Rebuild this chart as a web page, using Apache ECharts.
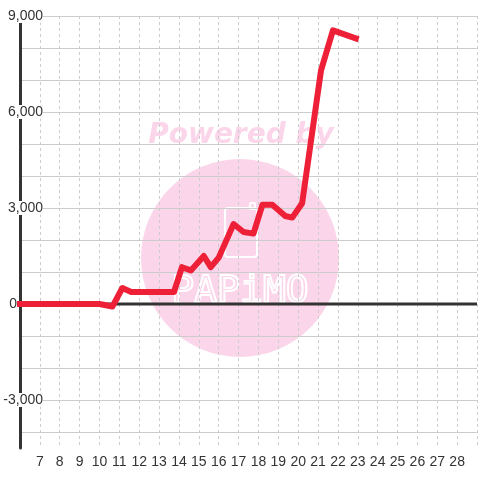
<!DOCTYPE html>
<html>
<head>
<meta charset="utf-8">
<script src="https://cdn.jsdelivr.net/npm/echarts@6/dist/echarts.min.js"></script>
<style>
html,body{margin:0;padding:0;background:#fff;}
#chart{width:480px;height:480px;}
</style>
</head>
<body>
<div id="chart"></div>
<script>
// Data
var days = [6, 7, 8, 9, 10, 10.65, 11.15, 11.6, 13.75, 14.15, 14.6, 15.25, 15.6, 16, 16.75, 17.25, 17.75, 18.2, 18.7, 19.35, 19.7, 20.2, 21.15, 21.75, 22.9];
var values = [0, 0, 0, 0, 0, -80, 500, 375, 375, 1150, 1050, 1500, 1150, 1450, 2500, 2250, 2200, 3100, 3100, 2750, 2700, 3150, 7300, 8550, 8300];
var xMin = 6, xMax = 29;
var yMin = -4500, yMax = 9000;
var yLabelStep = 3000;

var lineData = days.map(function (d, i) { return [d, values[i]]; });
var zeroData = [[xMin, 0], [xMax, 0]];

var chart = echarts.init(document.getElementById('chart'));
chart.setOption({
  animation: false,
  backgroundColor: '#ffffff',
  grid: { left: 20, right: 0, top: 16, bottom: 32, containLabel: false },
  xAxis: {
    type: 'value',
    min: xMin, max: xMax, interval: 1,
    axisLine: { show: false },
    axisTick: { show: false },
    axisLabel: {
      color: '#333', fontSize: 14, fontFamily: 'Liberation Sans, Arial, sans-serif', margin: 7,
      formatter: function (v) { return (v === xMin || v === xMax) ? '' : String(v); }
    },
    splitLine: { show: true, lineStyle: { color: '#cccccc', type: [3, 3], width: 1 } }
  },
  yAxis: {
    type: 'value',
    min: yMin, max: yMax, interval: 500,
    axisLine: { show: true, onZero: false, lineStyle: { color: '#333', width: 3 } },
    axisTick: { show: false },
    axisLabel: {
      color: '#333', fontSize: 14, fontFamily: 'Liberation Sans, Arial, sans-serif',
      margin: -23,
      formatter: function (v) {
        if (v % yLabelStep !== 0) return '';
        if (v === 0) return '{z|0}';
        return '{n|' + v.toLocaleString('en-US') + '}';
      },
      rich: {
        n: { color: '#333', fontSize: 14, fontFamily: 'Liberation Sans, Arial, sans-serif', backgroundColor: '#ffffff', lineHeight: 13 },
        z: { color: '#333', fontSize: 14, fontFamily: 'Liberation Sans, Arial, sans-serif', padding: [0, 26, 0, 0], lineHeight: 13 }
      }
    },
    splitLine: { show: true, lineStyle: { color: ['rgba(0,0,0,0)', '#cccccc'], width: 1 } }
  },
  graphic: [
    { type: 'circle', z: -10, shape: { cx: 240, cy: 258, r: 99 }, style: { fill: '#fbd6ea' }, silent: true },
    { type: 'text', z: -10, x: 241, y: 136, silent: true,
      style: { text: 'Powered by', fill: '#fbd6ea', font: 'italic bold 28px "DejaVu Sans"', align: 'center', verticalAlign: 'middle' } },
    { type: 'rect', z: -9, shape: { x: 225, y: 208, width: 32, height: 49, r: 3 }, silent: true,
      style: { fill: 'none', stroke: '#ffffff', lineWidth: 2 } },
    { type: 'rect', z: -9, shape: { x: 250, y: 203, width: 5, height: 6, r: 1 }, silent: true,
      style: { fill: 'none', stroke: '#ffffff', lineWidth: 2 } },
    { type: 'text', z: -9, x: 240, y: 292, silent: true,
      style: { text: 'PAPiMO', fill: 'rgba(0,0,0,0)', stroke: '#ffffff', lineWidth: 2, font: '38px "DejaVu Sans Mono"', align: 'center', verticalAlign: 'middle' } }
  ],
  series: [
    {
      type: 'line', z: 2, data: zeroData, showSymbol: false, silent: true,
      lineStyle: { color: '#333333', width: 3 }
    },
    {
      type: 'line', z: 3, data: lineData, showSymbol: false, silent: true,
      lineStyle: { color: '#ee2038', width: 6, join: 'round', cap: 'square' }
    }
  ]
});
</script>
</body>
</html>
